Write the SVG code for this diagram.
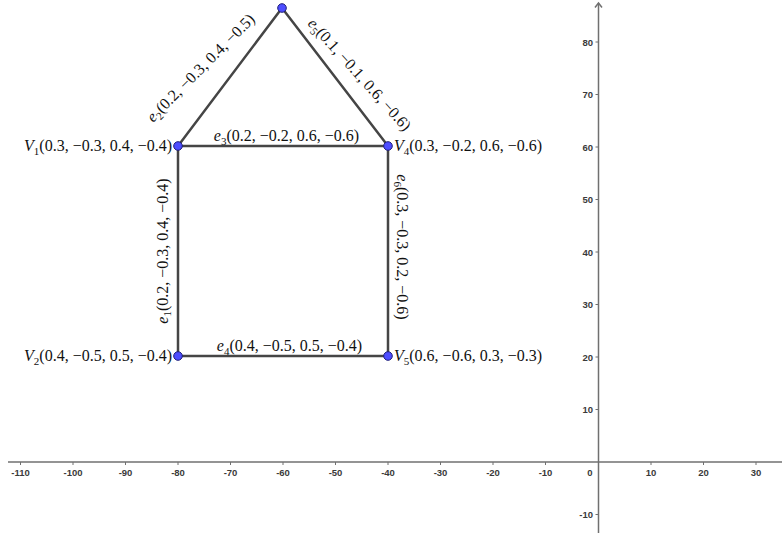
<svg xmlns="http://www.w3.org/2000/svg" width="782" height="533" viewBox="0 0 782 533">
<style>
.ax{stroke:#707070;stroke-width:1.5;fill:none}
.tk{stroke:#707070;stroke-width:1;fill:none}
.tl{font-family:"Liberation Sans",Arial,sans-serif;font-size:9.5px;font-weight:bold;fill:#3a3a3a}
.edge{stroke:#454545;stroke-width:2.5;fill:none;stroke-linecap:round}
.pt{fill:#4d4dff;stroke:#1e1e7a;stroke-width:1}
.m{font-family:"Liberation Serif","Times New Roman",serif;font-size:16px;fill:#111}
.i{font-style:italic}
.s{font-size:11px}
</style>
<rect width="782" height="533" fill="#fff"/>
<g id="axes">
<line class="ax" x1="8" y1="462" x2="782" y2="462"/>
<line class="ax" x1="598.5" y1="3" x2="598.5" y2="533"/>
<polyline class="ax" points="595,7.5 598.5,3 602,7.5"/>
<g class="tk">
<path d="M20.5 462v3M73 462v3M125.5 462v3M178 462v3M230.5 462v3M283 462v3M335.5 462v3M388 462v3M440.5 462v3M493 462v3M545.5 462v3M651 462v3M703.5 462v3M756 462v3"/>
<path d="M598.5 42h-3M598.5 94.5h-3M598.5 147h-3M598.5 199.5h-3M598.5 252h-3M598.5 304.5h-3M598.5 357h-3M598.5 409.5h-3M598.5 514.5h-3"/>
</g>
<g class="tl" text-anchor="middle">
<text x="20.5" y="476">-110</text>
<text x="73" y="476">-100</text>
<text x="125.5" y="476">-90</text>
<text x="178" y="476">-80</text>
<text x="230.5" y="476">-70</text>
<text x="283" y="476">-60</text>
<text x="335.5" y="476">-50</text>
<text x="388" y="476">-40</text>
<text x="440.5" y="476">-30</text>
<text x="493" y="476">-20</text>
<text x="545.5" y="476">-10</text>
<text x="651" y="476">10</text>
<text x="703.5" y="476">20</text>
<text x="756" y="476">30</text>
</g>
<g class="tl" text-anchor="end">
<text x="592.5" y="476">0</text>
<text x="593" y="45.5">80</text>
<text x="593" y="98">70</text>
<text x="593" y="150.5">60</text>
<text x="593" y="203">50</text>
<text x="593" y="255.5">40</text>
<text x="593" y="308">30</text>
<text x="593" y="360.5">20</text>
<text x="593" y="413">10</text>
<text x="593" y="518">-10</text>
</g>
</g>
<g id="connectors">
<line id="e1" class="edge" x1="178" y1="146" x2="178" y2="356"/>
<line id="e2" class="edge" x1="178" y1="146" x2="282" y2="8"/>
<line id="e3" class="edge" x1="178" y1="146" x2="388" y2="146"/>
<line id="e4" class="edge" x1="178" y1="356" x2="388" y2="356"/>
<line id="e5" class="edge" x1="282" y1="8" x2="388" y2="146"/>
<line id="e6" class="edge" x1="388" y1="146" x2="388" y2="356"/>
</g>
<g id="edge-labels" class="m">
<text transform="translate(167.5,251) rotate(-90)" text-anchor="middle"><tspan class="i">e</tspan><tspan class="s" dy="3.5">1</tspan><tspan dy="-3.5">(0.2, −0.3, 0.4, −0.4)</tspan></text>
<text transform="translate(153,123) rotate(-45)"><tspan class="i">e</tspan><tspan class="s" dy="3.5">2</tspan><tspan dy="-3.5">(0.2, −0.3, 0.4, −0.5)</tspan></text>
<text x="286.5" y="141" text-anchor="middle"><tspan class="i">e</tspan><tspan class="s" dy="3.5">3</tspan><tspan dy="-3.5">(0.2, −0.2, 0.6, −0.6)</tspan></text>
<text x="289.5" y="351" text-anchor="middle"><tspan class="i">e</tspan><tspan class="s" dy="3.5">4</tspan><tspan dy="-3.5">(0.4, −0.5, 0.5, −0.4)</tspan></text>
<text transform="translate(307,24) rotate(48)"><tspan class="i">e</tspan><tspan class="s" dy="3.5">5</tspan><tspan dy="-3.5">(0.1, −0.1, 0.6, −0.6)</tspan></text>
<text transform="translate(397,247) rotate(90)" text-anchor="middle"><tspan class="i">e</tspan><tspan class="s" dy="3.5">6</tspan><tspan dy="-3.5">(0.3, −0.3, 0.2, −0.6)</tspan></text>
</g>
<g id="V1">
<circle class="pt" cx="178" cy="146" r="4.3"/>
<text class="m" x="172" y="151" text-anchor="end"><tspan class="i">V</tspan><tspan class="s" dy="3.5">1</tspan><tspan dy="-3.5">(0.3, −0.3, 0.4, −0.4)</tspan></text>
</g>
<g id="V2">
<circle class="pt" cx="178" cy="356" r="4.3"/>
<text class="m" x="172" y="361" text-anchor="end"><tspan class="i">V</tspan><tspan class="s" dy="3.5">2</tspan><tspan dy="-3.5">(0.4, −0.5, 0.5, −0.4)</tspan></text>
</g>
<g id="V3">
<circle class="pt" cx="282" cy="8" r="4.3"/>
</g>
<g id="V4">
<circle class="pt" cx="388" cy="146" r="4.3"/>
<text class="m" x="394" y="151"><tspan class="i">V</tspan><tspan class="s" dy="3.5">4</tspan><tspan dy="-3.5">(0.3, −0.2, 0.6, −0.6)</tspan></text>
</g>
<g id="V5">
<circle class="pt" cx="388" cy="356" r="4.3"/>
<text class="m" x="394" y="361"><tspan class="i">V</tspan><tspan class="s" dy="3.5">5</tspan><tspan dy="-3.5">(0.6, −0.6, 0.3, −0.3)</tspan></text>
</g>
</svg>
